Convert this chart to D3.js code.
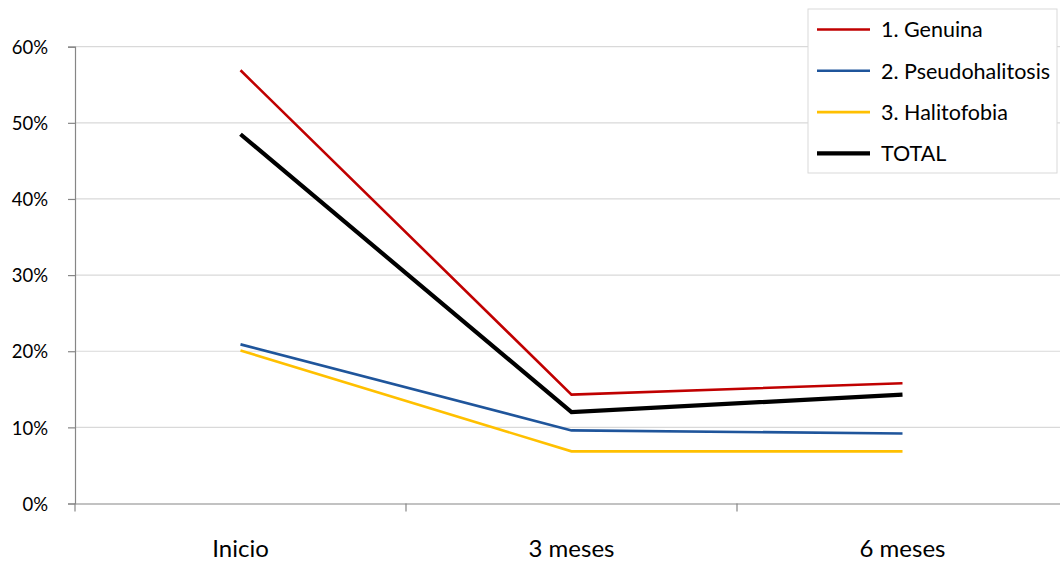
<!DOCTYPE html>
<html>
<head>
<meta charset="utf-8">
<script src="https://cdn.jsdelivr.net/npm/d3@7"></script>
<style>
  body { margin: 0; background: #fff; }
  svg { display: block; font-family: Lato, "Open Sans", sans-serif; }
</style>
</head>
<body>
<svg id="chart" width="1060" height="563"></svg>
<script>
// ***** Data *****
const categories = ["Inicio", "3 meses", "6 meses"];
const genuina = [56.9, 14.3, 15.8];
const pseudohalitosis = [20.9, 9.6, 9.2];
const halitofobia = [20.1, 6.85, 6.85];
const total = [48.5, 12.0, 14.3];
const yTicks = [0, 10, 20, 30, 40, 50, 60];

const seriesList = [
  { name: "1. Genuina", values: genuina, color: "#C00000", width: 2.6 },
  { name: "2. Pseudohalitosis", values: pseudohalitosis, color: "#1F559B", width: 2.6 },
  { name: "3. Halitofobia", values: halitofobia, color: "#FFC000", width: 2.6 },
  { name: "TOTAL", values: total, color: "#000000", width: 4.2 }
];

const svg = d3.select("#chart");
const plotLeft = 75, plotRight = 1068, plotTop = 46.7, plotBottom = 503.5;

const xScale = d3.scaleBand().domain(categories).range([plotLeft, plotRight]);
const yScale = d3.scaleLinear().domain([0, 60]).range([plotBottom, plotTop]);

// gridlines
svg.append("g")
  .selectAll("line")
  .data(yTicks.filter(d => d > 0))
  .enter()
  .append("line")
  .attr("x1", plotLeft)
  .attr("x2", 1060)
  .attr("y1", d => yScale(d))
  .attr("y2", d => yScale(d))
  .attr("stroke", "#d9d9d9")
  .attr("stroke-width", 1.2);

// y axis
const yAxis = svg.append("g")
  .attr("transform", "translate(" + plotLeft + ",0)")
  .call(d3.axisLeft(yScale).tickValues(yTicks).tickSize(7).tickFormat(d => d + "%"));
yAxis.selectAll("path, line").attr("stroke", "#868686").attr("stroke-width", 1.2);
yAxis.selectAll("text")
  .attr("x", -27)
  .attr("dy", "0.36em")
  .style("font-size", "18.5px")
  .style("fill", "#000")
  .style("font-family", "Lato, 'Open Sans', sans-serif");

// x axis
const xAxis = svg.append("g")
  .attr("transform", "translate(0," + plotBottom + ")")
  .call(d3.axisBottom(xScale).tickSize(0).tickSizeOuter(0));
xAxis.select("path").attr("stroke", "#868686").attr("stroke-width", 1.2);
xAxis.selectAll("text")
  .attr("y", 53.5)
  .attr("dy", 0)
  .style("font-size", "24px")
  .style("fill", "#000")
  .style("font-family", "Lato, 'Open Sans', sans-serif");

// category boundary ticks
svg.append("g")
  .selectAll("line")
  .data(categories)
  .enter()
  .append("line")
  .attr("x1", d => xScale(d))
  .attr("x2", d => xScale(d))
  .attr("y1", plotBottom)
  .attr("y2", plotBottom + 8)
  .attr("stroke", "#868686")
  .attr("stroke-width", 1.2);

// lines
const line = d3.line()
  .x((d, i) => xScale(categories[i]) + xScale.bandwidth() / 2)
  .y(d => yScale(d));

svg.append("g")
  .selectAll("path")
  .data(seriesList)
  .enter()
  .append("path")
  .attr("d", d => line(d.values))
  .attr("fill", "none")
  .attr("stroke", d => d.color)
  .attr("stroke-width", d => d.width)
  .attr("stroke-linejoin", "miter");

// legend
const legend = svg.append("g").attr("transform", "translate(808,9)");
legend.append("rect")
  .attr("x", 0).attr("y", 0)
  .attr("width", 249).attr("height", 164)
  .attr("fill", "#fff")
  .attr("stroke", "#d9d9d9")
  .attr("stroke-width", 1);

const items = legend.selectAll(".item")
  .data(seriesList)
  .enter()
  .append("g")
  .attr("class", "item")
  .attr("transform", (d, i) => "translate(0," + (20.5 + i * 41.3) + ")");

items.append("line")
  .attr("x1", 9).attr("x2", 62)
  .attr("y1", 0).attr("y2", 0)
  .attr("stroke", d => d.color)
  .attr("stroke-width", d => d.width);

items.append("text")
  .attr("x", 73)
  .attr("y", 0)
  .attr("dy", "0.36em")
  .style("font-size", "21.5px")
  .text(d => d.name);
</script>
</body>
</html>
